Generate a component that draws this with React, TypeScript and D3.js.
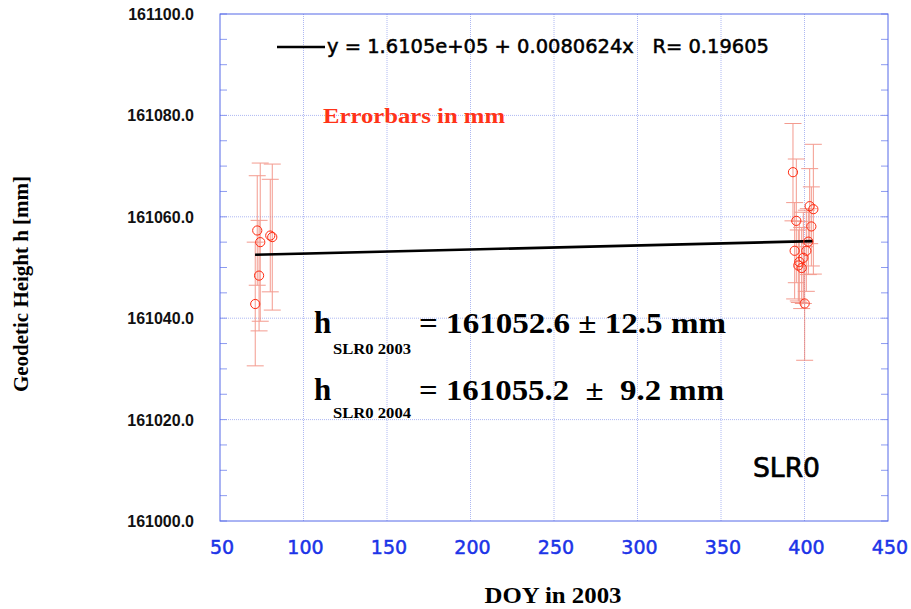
import React, { useEffect, useRef } from 'react';
import * as d3 from 'd3';

// station SLR0, geodetic height per day of year
const doy = [72.3, 74.1, 80.1, 81.3, 73.4, 71.1,
  393.1, 403.1, 405.3, 395.1, 404.1, 402.3, 394.1, 401.1, 399.3, 396.9, 396.3, 398.3, 400.1];
const heightMm = [161057.3, 161055.0, 161056.3, 161056.0, 161048.4, 161042.8,
  161068.8, 161062.1, 161061.5, 161059.2, 161058.1, 161055.1, 161053.3, 161053.3, 161051.9, 161051.1, 161050.4, 161049.9, 161042.9];
const errMm = [10.8, 15.6, 11.1, 14.4, 10.9, 12.2,
  9.6, 7.4, 12.8, 12.2, 7.8, 6.5, 9.5, 8.0, 9.0, 8.0, 7.0, 8.0, 11.2];

// linear fit end points
const fitX = [71, 405];
const fitY = [161052.5, 161055.2];

const xTicks = [50, 100, 150, 200, 250, 300, 350, 400, 450];
const yTicks = [161000, 161020, 161040, 161060, 161080, 161100];
const yMinor = d3.range(161000, 161100.1, 5);

const BLUE = '#5468e8';
const GRID = '#aeb8f2';

const App = () => {
  const ref = useRef<SVGSVGElement>(null);

  useEffect(() => {
    const svg = d3.select(ref.current);
    svg.selectAll('*').remove();

    const left = 220, right = 888, top = 14, bottom = 521;
    const x = d3.scaleLinear().domain([50, 450]).range([left, right]);
    const y = d3.scaleLinear().domain([161000, 161100]).range([bottom, top]);

    // grid
    const g = svg.append('g');
    g.selectAll('.vg').data(xTicks.slice(1, -1)).enter().append('line')
      .attr('x1', (d) => x(d)).attr('x2', (d) => x(d))
      .attr('y1', top).attr('y2', bottom)
      .attr('stroke', GRID).attr('stroke-width', 1).attr('stroke-dasharray', '1,1');
    g.selectAll('.hg').data(yTicks.slice(1, -1)).enter().append('line')
      .attr('x1', left).attr('x2', right)
      .attr('y1', (d) => y(d)).attr('y2', (d) => y(d))
      .attr('stroke', GRID).attr('stroke-width', 1).attr('stroke-dasharray', '1,1');

    // minor ticks on left and right
    yMinor.forEach((v) => {
      g.append('line').attr('x1', left).attr('x2', left + 7)
        .attr('y1', y(v)).attr('y2', y(v)).attr('stroke', '#8d9bf0').attr('stroke-width', 1);
      g.append('line').attr('x1', right - 7).attr('x2', right)
        .attr('y1', y(v)).attr('y2', y(v)).attr('stroke', '#8d9bf0').attr('stroke-width', 1);
    });

    // frame
    g.append('rect').attr('x', left).attr('y', top)
      .attr('width', right - left).attr('height', bottom - top)
      .attr('fill', 'none').attr('stroke', BLUE).attr('stroke-width', 1);

    // tick labels
    svg.selectAll('.xl').data(xTicks).enter().append('text')
      .attr('x', (d) => x(d) + 2).attr('y', 554)
      .attr('text-anchor', 'middle')
      .style('font-family', 'DejaVu Sans').style('font-size', '19px')
      .attr('fill', '#1c34e8').attr('stroke', '#1c34e8').attr('stroke-width', 0.5)
      .text((d) => d);
    svg.selectAll('.yl').data(yTicks).enter().append('text')
      .attr('x', 194).attr('y', (d) => y(d) + 6)
      .attr('text-anchor', 'end')
      .style('font-family', 'Liberation Sans').style('font-size', '16px').style('font-weight', 'bold')
      .attr('fill', '#111').text((d) => d.toFixed(1));

    // axis titles
    svg.append('text').attr('x', 553).attr('y', 603).attr('text-anchor', 'middle')
      .attr('textLength', 137).attr('lengthAdjust', 'spacingAndGlyphs')
      .style('font-family', 'Liberation Serif').style('font-size', '24px').style('font-weight', 'bold')
      .text('DOY in 2003');
    svg.append('text').attr('transform', 'translate(28,284) rotate(-90)').attr('text-anchor', 'middle')
      .attr('textLength', 216).attr('lengthAdjust', 'spacingAndGlyphs')
      .style('font-family', 'Liberation Serif').style('font-size', '22px').style('font-weight', 'bold')
      .text('Geodetic Height h [mm]');

    // error bars
    const pts = doy.map((d, i) => ({ x: d, y: heightMm[i], e: errMm[i] }));
    const eb = svg.append('g').attr('stroke', '#f07a6a').attr('stroke-width', 1).attr('opacity', 0.75);
    pts.forEach((p) => {
      const cx = x(p.x);
      eb.append('line').attr('x1', cx).attr('x2', cx).attr('y1', y(p.y - p.e)).attr('y2', y(p.y + p.e));
      eb.append('line').attr('x1', cx - 8.5).attr('x2', cx + 8.5).attr('y1', y(p.y + p.e)).attr('y2', y(p.y + p.e));
      eb.append('line').attr('x1', cx - 8.5).attr('x2', cx + 8.5).attr('y1', y(p.y - p.e)).attr('y2', y(p.y - p.e));
    });

    // fit line
    svg.append('path')
      .datum(fitX.map((d, i) => [d, fitY[i]] as [number, number]))
      .attr('d', d3.line().x((d) => x(d[0])).y((d) => y(d[1])))
      .attr('stroke', '#000').attr('stroke-width', 2.6).attr('fill', 'none');

    // points
    svg.selectAll('.pt').data(pts).enter().append('circle')
      .attr('cx', (d) => x(d.x)).attr('cy', (d) => y(d.y)).attr('r', 4.6)
      .attr('fill', 'none').attr('stroke', '#ff2a10').attr('stroke-width', 1);

    // legend
    svg.append('line').attr('x1', 277).attr('x2', 325).attr('y1', 47).attr('y2', 47)
      .attr('stroke', '#000').attr('stroke-width', 2.6);
    svg.append('text').attr('x', 327).attr('y', 53)
      .attr('textLength', 442).attr('lengthAdjust', 'spacingAndGlyphs')
      .style('white-space', 'pre')
      .style('font-family', 'DejaVu Sans').style('font-size', '19px')
      .attr('stroke', '#000').attr('stroke-width', 0.5)
      .text('y = 1.6105e+05 + 0.0080624x   R= 0.19605');

    svg.append('text').attr('x', 323).attr('y', 123)
      .attr('textLength', 182).attr('lengthAdjust', 'spacingAndGlyphs')
      .style('font-family', 'Liberation Serif').style('font-size', '20px').style('font-weight', 'bold')
      .attr('fill', '#ff3318').text('Errorbars in mm');

    const serifBold = (t: any, size: number) => t
      .style('font-family', 'Liberation Serif').style('font-size', `${size}px`).style('font-weight', 'bold');

    serifBold(svg.append('text').attr('x', 314).attr('y', 333).text('h'), 31);
    serifBold(svg.append('text').attr('x', 333).attr('y', 354).attr('textLength', 78)
      .attr('lengthAdjust', 'spacingAndGlyphs').text('SLR0 2003'), 14);
    serifBold(svg.append('text').attr('x', 419).attr('y', 333).attr('textLength', 307)
      .attr('lengthAdjust', 'spacingAndGlyphs').text('= 161052.6 ± 12.5 mm'), 29);

    serifBold(svg.append('text').attr('x', 314).attr('y', 400).text('h'), 31);
    serifBold(svg.append('text').attr('x', 333).attr('y', 418).attr('textLength', 78)
      .attr('lengthAdjust', 'spacingAndGlyphs').text('SLR0 2004'), 14);
    serifBold(svg.append('text').attr('x', 419).attr('y', 400).attr('textLength', 305)
      .attr('lengthAdjust', 'spacingAndGlyphs')
      .style('white-space', 'pre').text('= 161055.2  ±  9.2 mm'), 29);

    svg.append('text').attr('x', 753).attr('y', 477)
      .attr('textLength', 67).attr('lengthAdjust', 'spacingAndGlyphs')
      .style('font-family', 'DejaVu Sans').style('font-size', '26px')
      .attr('stroke', '#000').attr('stroke-width', 0.7)
      .text('SLR0');
  }, []);

  return (
    <svg ref={ref} width={911} height={609}
      style={{ position: 'absolute', left: 0, top: 0, background: '#fff' }} />
  );
};

export default App;
